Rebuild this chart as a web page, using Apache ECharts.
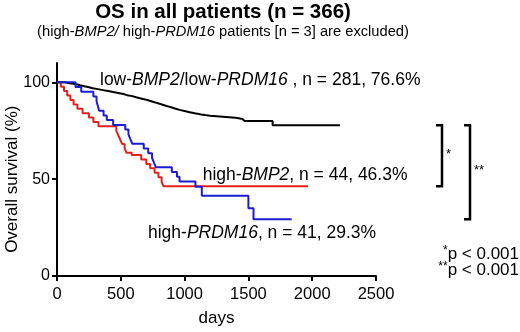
<!DOCTYPE html>
<html>
<head>
<meta charset="utf-8">
<script src="https://cdn.jsdelivr.net/npm/echarts@6/dist/echarts.min.js"></script>
<style>
  html, body { margin: 0; padding: 0; background: #fff; }
  #chart { width: 520px; height: 332px; }
</style>
</head>
<body>
<div id="chart"></div>
<script>
// Kaplan-Meier curves, values (days, survival %)
const lowDays = [0, 60, 100, 130, 160, 180, 215, 250, 280, 320, 360, 400, 440, 480, 520, 550, 590, 620, 650, 690, 720, 750, 780, 810, 840, 870, 900, 930, 960, 1000, 1040, 1080, 1130, 1200, 1300, 1400, 1455, 1470, 1690, 2218];
const lowSurv = [100, 99.6, 99.3, 98.9, 98.5, 98.0, 97.5, 97.0, 96.5, 96.0, 95.5, 95.0, 94.5, 94.0, 93.4, 92.9, 92.3, 91.8, 91.2, 90.6, 90.0, 89.4, 88.8, 88.2, 87.6, 87.0, 86.4, 85.8, 85.2, 84.6, 84.0, 83.4, 82.8, 82.3, 81.7, 81.1, 80.5, 80.0, 77.8, 77.8];

const bmpDays = [0, 30, 55, 80, 105, 130, 160, 200, 250, 285, 325, 465, 480, 495, 510, 530, 545, 585, 660, 700, 730, 765, 795, 820, 835, 1967];
const bmpSurv = [100, 97.7, 95.5, 93.2, 90.9, 88.6, 86.4, 84.1, 81.8, 79.5, 77.3, 75.0, 72.7, 70.5, 68.2, 65.9, 63.6, 62.5, 60.2, 57.9, 55.6, 53.3, 51.0, 48.6, 46.3, 46.3];

const prdDays = [0, 145, 190, 285, 310, 320, 330, 365, 390, 440, 535, 560, 575, 590, 680, 715, 745, 760, 775, 900, 940, 960, 1085, 1135, 1500, 1540, 1839];
const prdSurv = [100, 97.6, 95.1, 92.7, 90.2, 87.8, 85.4, 82.9, 80.5, 78.0, 75.6, 73.2, 70.7, 68.3, 65.9, 63.4, 61.0, 58.5, 56.1, 53.7, 51.2, 48.8, 46.1, 41.5, 35.0, 29.3, 29.3];

const yTicks = [0, 50, 100];

// where each curve's label starts (left edge, vertical middle), in data units
const lowLabelAt = [337, 101];
const bmpLabelAt = [1142, 52.2];
const prdLabelAt = [713, 22.1];

const FONT = '"Liberation Sans", Arial, Helvetica, sans-serif';
const RED = '#e3201c';
const BLUE = '#1c1cd2';

const pairs = (xs, ys) => xs.map((x, i) => [x, ys[i]]);

const chart = echarts.init(document.getElementById('chart'));

const option = {
  animation: false,
  backgroundColor: '#fff',
  title: {
    left: 218,
    top: -3,
    textAlign: 'center',
    itemGap: 1,
    text: 'OS in all patients (n = 366)',
    textStyle: { fontFamily: FONT, fontSize: 20.5, fontWeight: 'bold', color: '#000' },
    subtext: '(high-{i|BMP2/} high-{i|PRDM16} patients [n = 3] are excluded)',
    subtextStyle: {
      fontFamily: FONT, fontSize: 14.7, color: '#000',
      rich: { i: { fontFamily: FONT, fontSize: 14.7, color: '#000', fontStyle: 'italic' } }
    }
  },
  grid: { left: 57, right: 144, top: 63, bottom: 56, outerBoundsMode: 'none' },
  xAxis: {
    type: 'value',
    min: 0,
    max: 2500,
    interval: 500,
    name: 'days',
    nameLocation: 'middle',
    nameGap: 34,
    nameTextStyle: { fontFamily: FONT, fontSize: 17, color: '#000' },
    axisLine: { lineStyle: { color: '#000', width: 2 } },
    axisTick: { inside: false, length: 5, lineStyle: { color: '#000', width: 2 } },
    axisLabel: { fontFamily: FONT, fontSize: 16.5, color: '#000', margin: 10, formatter: v => String(v) },
    splitLine: { show: false }
  },
  yAxis: {
    type: 'value',
    min: 0,
    max: 110,
    axisLine: { show: true, lineStyle: { color: '#000', width: 2 } },
    axisTick: { show: true, length: 5, customValues: yTicks, lineStyle: { color: '#000', width: 2 } },
    axisLabel: { fontFamily: FONT, fontSize: 16, color: '#000', margin: 7, customValues: yTicks, formatter: v => String(v) },
    splitLine: { show: false }
  },
  series: [
    {
      name: 'low-BMP2/low-PRDM16',
      type: 'line',
      step: 'end',
      showSymbol: false,
      lineStyle: { color: '#000', width: 2 },
      z: 3,
      data: pairs(lowDays, lowSurv)
    },
    {
      name: 'high-BMP2',
      type: 'line',
      step: 'end',
      showSymbol: false,
      lineStyle: { color: RED, width: 2 },
      z: 4,
      data: pairs(bmpDays, bmpSurv)
    },
    {
      name: 'high-PRDM16',
      type: 'line',
      step: 'end',
      showSymbol: false,
      lineStyle: { color: BLUE, width: 2 },
      z: 5,
      data: pairs(prdDays, prdSurv)
    }
  ]
};

chart.setOption(option);

const toPx = p => chart.convertToPixel({ gridIndex: 0 }, p);
const toY = v => chart.convertToPixel({ yAxisIndex: 0 }, v);

const labelRich = {
  n: { font: '17.5px ' + FONT, fill: '#000' },
  i: { font: 'italic 17.5px ' + FONT, fill: '#000' }
};

function curveText(at, text) {
  const p = toPx(at);
  return {
    type: 'text', x: p[0], y: p[1], z: 10,
    style: { text: text, align: 'left', verticalAlign: 'middle', rich: labelRich }
  };
}

// significance brackets to the right of the plot, spanning the final survival levels
const yTop = toY(lowSurv[lowSurv.length - 1]);
const yRed = toY(bmpSurv[bmpSurv.length - 1]);
const yBlue = toY(prdSurv[prdSurv.length - 1]);

function bracket(x, y1, y2) {
  return {
    type: 'polyline',
    shape: { points: [[x - 6, y1], [x, y1], [x, y2], [x - 6, y2]] },
    style: { stroke: '#000', lineWidth: 2.5, fill: null }
  };
}

const pRich = {
  s: { font: '12px ' + FONT, fill: '#000', padding: [0, 0, 7, 0] },
  n: { font: '17px ' + FONT, fill: '#000' }
};

// y axis title, centred on the 0-100 span like the original
const yMid = (toY(0) + toY(100)) / 2;

chart.setOption({
  graphic: [
    {
      type: 'text', x: 12, y: yMid, rotation: Math.PI / 2,
      style: { text: 'Overall survival (%)', font: '17px ' + FONT, fill: '#000', align: 'center', verticalAlign: 'middle' }
    },
    curveText(lowLabelAt, '{n|low-}{i|BMP2}{n|/low-}{i|PRDM16}{n| , n = 281, 76.6%}'),
    curveText(bmpLabelAt, '{n|high-}{i|BMP2}{n|, n = 44, 46.3%}'),
    curveText(prdLabelAt, '{n|high-}{i|PRDM16}{n|, n = 41, 29.3%}'),
    bracket(442, yTop, yRed),
    bracket(470, yTop, yBlue),
    { type: 'text', x: 446, y: (yTop + yRed) / 2 - 8, style: { text: '*', font: '13px ' + FONT, fill: '#000' } },
    { type: 'text', x: 474, y: (yTop + yBlue) / 2 - 8, style: { text: '**', font: '13px ' + FONT, fill: '#000' } },
    {
      type: 'text', x: 519, y: 254,
      style: { text: '{s|*}{n|p < 0.001}', align: 'right', verticalAlign: 'middle', rich: pRich }
    },
    {
      type: 'text', x: 519, y: 270,
      style: { text: '{s|**}{n|p < 0.001}', align: 'right', verticalAlign: 'middle', rich: pRich }
    }
  ]
});
</script>
</body>
</html>
